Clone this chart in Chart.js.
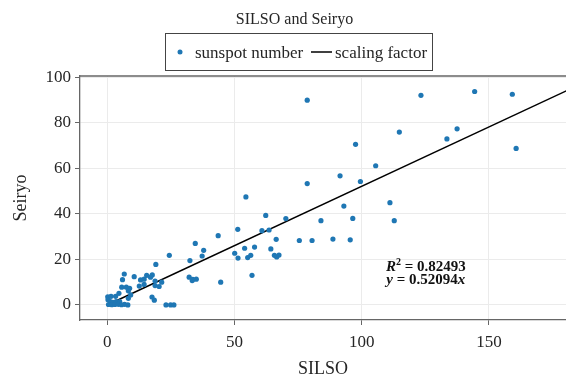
<!DOCTYPE html>
<html>
<head>
<meta charset="utf-8">
<script src="https://cdn.jsdelivr.net/npm/chart.js@4.4.0/dist/chart.umd.min.js"></script>
<style>
body { margin: 0; background: #fff; }
#wrap { width: 566px; height: 376px; }
</style>
</head>
<body>
<div id="wrap"><canvas id="myChart" width="566" height="376"></canvas></div>
<script>
// SILSO (x) vs Seiryo (y) sunspot numbers
var silso = [
    0.2, 0.3, 1.5, 3.3, 1.2, 2.2, 3.5, 4.9, 0.5, 1.8, 3.0, 4.4, 5.6, 6.8, 8.1,
    4.6, 9.2, 8.3, 5.7, 7.5, 8.8, 8.3, 12.6, 14.5, 18.8, 6.7, 6.0, 10.6, 15.5, 17.7,
    17.0, 13.1, 14.5, 18.8, 21.4, 20.4, 19.1, 17.6, 18.5, 23.1, 24.9, 26.2, 24.4,
    32.5, 32.2, 33.6, 35.0, 33.4, 34.6, 37.3, 37.9, 43.6, 44.6, 50.1, 51.3, 51.4,
    54.0, 54.5, 55.2, 56.4, 56.9, 57.9, 60.8, 62.3, 63.6, 64.3, 65.7, 66.6, 67.5,
    66.4, 70.2, 75.5, 78.6, 78.6, 80.5, 84.0, 88.7, 91.5, 93.0, 95.5, 96.5, 97.6,
    99.5, 105.5, 111.1, 112.8, 114.8, 123.3, 133.5, 137.5, 144.4, 159.2, 160.7
];
var seiryo = [
    3.6, 2.3, 3.8, 3.8, 1.5, 1.2, 1.5, 1.5, 0.2, 0.1, 0.2, 0.3, 0.1, 0.3, 0.0,
    5.1, 4.4, 2.9, 7.8, 7.8, 7.3, 6.2, 8.3, 9.0, 8.5, 13.6, 11.1, 12.4, 13.0, 13.2,
    12.2, 11.0, 11.3, 10.5, 10.0, 8.1, 17.8, 3.5, 2.1, 0.0, 0.0, 0.0, 21.8,
    19.5, 12.2, 11.2, 11.3, 10.7, 27.0, 21.5, 24.0, 30.4, 10.0, 22.7, 33.2, 20.6,
    24.9, 47.4, 20.8, 21.8, 13.0, 25.4, 32.6, 39.3, 32.9, 24.6, 21.8, 21.1, 21.9,
    28.8, 37.9, 28.3, 89.9, 53.3, 28.3, 37.0, 28.9, 56.7, 43.4, 28.6, 38.0, 70.5,
    54.2, 61.1, 44.9, 37.0, 75.9, 92.0, 72.9, 77.3, 93.7, 92.5, 68.7
];
var fitX = [0, 182];
var slope = 0.52094;
var r2Text = '0.82493';
var slopeText = '0.52094';
var xTicks = [0, 50, 100, 150];
var yTicks = [0, 20, 40, 60, 80, 100];

var serif = "'Liberation Serif', 'Times New Roman', serif";
var ink = '#262626';

var points = silso.map(function (x, i) { return { x: x, y: seiryo[i] }; });
var fitLine = fitX.map(function (x) { return { x: x, y: slope * x }; });

function drawParts(ctx, parts, cx, y) {
    var total = 0;
    parts.forEach(function (p) {
        ctx.font = p.font;
        p.w = ctx.measureText(p.t).width;
        total += p.w;
    });
    var x = cx - total / 2;
    parts.forEach(function (p) {
        ctx.font = p.font;
        ctx.fillText(p.t, x, y + (p.dy || 0));
        x += p.w;
    });
}

var extras = {
    id: 'extras',
    afterDraw: function (chart) {
        var ctx = chart.ctx;
        var area = chart.chartArea;
        ctx.save();
        // top frame line
        ctx.strokeStyle = '#666';
        ctx.lineWidth = 1.3;
        ctx.beginPath();
        ctx.moveTo(area.left, area.top);
        ctx.lineTo(area.right, area.top);
        ctx.stroke();

        // title
        ctx.fillStyle = ink;
        ctx.textBaseline = 'alphabetic';
        ctx.textAlign = 'center';
        ctx.font = '16px ' + serif;
        ctx.fillText('SILSO and Seiryo', 294.5, 24);

        // legend
        ctx.fillStyle = '#fff';
        ctx.fillRect(165.5, 33.5, 267, 37);
        ctx.strokeStyle = '#444';
        ctx.lineWidth = 1;
        ctx.strokeRect(165.5, 33.5, 267, 37);
        ctx.fillStyle = '#1f77b4';
        ctx.beginPath();
        ctx.arc(180, 52, 2.5, 0, Math.PI * 2);
        ctx.fill();
        ctx.strokeStyle = '#000';
        ctx.lineWidth = 1.5;
        ctx.beginPath();
        ctx.moveTo(311, 52);
        ctx.lineTo(332, 52);
        ctx.stroke();
        ctx.fillStyle = ink;
        ctx.textAlign = 'left';
        ctx.font = '17px ' + serif;
        ctx.fillText('sunspot number', 195, 58);
        ctx.fillText('scaling factor', 335, 58);

        // fit annotation
        var xs = chart.scales.x, ys = chart.scales.y;
        var cx = xs.getPixelForValue(125.2);
        ctx.fillStyle = '#111';
        var b = 'bold 15px ' + serif, bi = 'italic bold 15px ' + serif;
        drawParts(ctx, [
            { t: 'R', font: bi },
            { t: '2', font: 'bold 10px ' + serif, dy: -6 },
            { t: ' = ' + r2Text, font: b }
        ], cx, ys.getPixelForValue(17.2) + 5);
        drawParts(ctx, [
            { t: 'y', font: bi },
            { t: ' = ' + slopeText, font: b },
            { t: 'x', font: bi }
        ], cx, ys.getPixelForValue(11.3) + 5);
        ctx.restore();
    }
};

var ctx = document.getElementById('myChart').getContext('2d');
var myChart = new Chart(ctx, {
    type: 'scatter',
    data: {
        datasets: [{
            label: 'sunspot number',
            data: points,
            backgroundColor: '#1f77b4',
            borderWidth: 0,
            pointRadius: 2.6
        },
        {
            type: 'line',
            label: 'scaling factor',
            data: fitLine,
            borderColor: '#000',
            borderWidth: 1.5,
            pointRadius: 0,
            fill: false
        }]
    },
    options: {
        responsive: false,
        animation: false,
        layout: { autoPadding: false, padding: { top: 76, left: 8, right: 0, bottom: 0 } },
        plugins: {
            legend: { display: false },
            title: { display: false },
            tooltip: { enabled: false }
        },
        scales: {
            x: {
                type: 'linear',
                min: -10.7,
                max: 180.3,
                afterBuildTicks: function (s) { s.ticks = xTicks.map(function (v) { return { value: v }; }); },
                afterFit: function (s) { s.height = 56; },
                grid: { color: '#ebebeb', tickColor: '#666', tickLength: 5 },
                border: { color: '#666', width: 1.3 },
                ticks: { font: { family: serif, size: 17 }, color: ink, padding: 7, maxRotation: 0 },
                title: { display: true, text: 'SILSO', color: ink, font: { family: serif, size: 18, lineHeight: 0.7 }, padding: { top: 0, bottom: 0 } }
            },
            y: {
                type: 'linear',
                min: -6.6,
                max: 100.5,
                afterBuildTicks: function (s) { s.ticks = yTicks.map(function (v) { return { value: v }; }); },
                afterFit: function (s) { s.width = 72; },
                grid: { color: '#ebebeb', tickColor: '#666', tickLength: 5 },
                border: { color: '#666', width: 1.3 },
                ticks: { font: { family: serif, size: 17 }, color: ink, padding: 4 },
                title: { display: true, text: 'Seiryo', color: ink, font: { family: serif, size: 18 }, padding: { top: 2, bottom: 0 } }
            }
        }
    },
    plugins: [extras]
});
</script>
</body>
</html>
